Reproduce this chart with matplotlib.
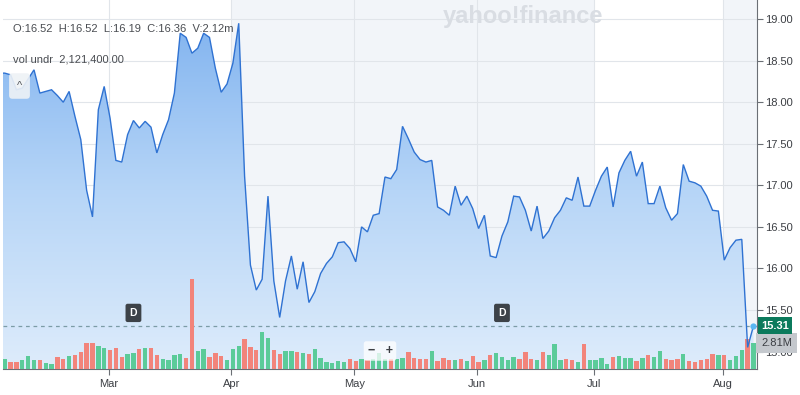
import numpy as np
import pandas as pd
import matplotlib
matplotlib.use('Agg')
import matplotlib.pyplot as plt
import matplotlib.transforms as mtransforms
from matplotlib.colors import LinearSegmentedColormap
from matplotlib.patches import Polygon

plt.rcParams['font.family'] = ['Liberation Sans', 'DejaVu Sans']

# trading days, Feb 4 - Aug 8 2025
holidays = ['2025-02-17', '2025-04-18', '2025-05-26', '2025-06-19', '2025-07-04']
dates = pd.bdate_range('2025-02-04', '2025-08-08', freq='C', holidays=holidays)

close = [18.35, 18.33, 18.15, 18.17, 18.28, 18.39, 18.11, 18.13, 18.15, 18.08,
         18.00, 18.13, 17.83, 17.55, 16.94, 16.62, 17.91, 18.19, 17.81, 17.30,
         17.28, 17.61, 17.78, 17.69, 17.77, 17.70, 17.39, 17.61, 17.79, 18.11,
         18.83, 18.78, 18.59, 18.65, 18.83, 18.78, 18.41, 18.12, 18.22, 18.47,
         18.95, 17.11, 16.04, 15.74, 15.87, 16.87, 15.85, 15.41, 15.85, 16.15,
         15.75, 16.08, 15.59, 15.72, 15.94, 16.06, 16.14, 16.31, 16.32, 16.24,
         16.08, 16.50, 16.44, 16.64, 16.66, 17.10, 17.08, 17.19, 17.71, 17.56,
         17.40, 17.31, 17.28, 17.30, 16.74, 16.70, 16.64, 16.99, 16.76, 16.87,
         16.72, 16.48, 16.64, 16.15, 16.13, 16.39, 16.56, 16.87, 16.86, 16.70,
         16.45, 16.75, 16.36, 16.45, 16.61, 16.70, 16.85, 16.82, 17.10, 16.75,
         16.75, 16.94, 17.11, 17.22, 16.74, 17.15, 17.30, 17.41, 17.11, 17.28,
         16.78, 16.78, 16.99, 16.73, 16.58, 16.66, 17.25, 17.05, 17.03, 16.99,
         16.87, 16.70, 16.69, 16.10, 16.25, 16.34, 16.35, 15.05, 15.31]

# volume in millions
volume = [1.12, 0.79, 0.79, 0.98, 1.41, 0.98, 0.98, 0.68, 0.57, 1.30,
          1.12, 1.41, 1.52, 1.81, 2.82, 2.82, 2.46, 2.28, 2.09, 2.28,
          1.30, 1.63, 1.77, 2.20, 2.28, 2.28, 1.52, 1.12, 0.98, 1.52,
          1.63, 1.22, 9.76, 1.92, 2.17, 1.30, 1.77, 1.41, 1.01, 2.17,
          2.53, 3.25, 2.38, 2.03, 4.04, 3.33, 2.09, 1.66, 1.98, 1.95,
          1.81, 1.77, 1.66, 2.20, 1.22, 0.76, 0.68, 0.90, 0.79, 1.05,
          0.90, 1.12, 0.98, 1.08, 1.70, 1.08, 1.08, 1.08, 1.22, 1.81,
          1.16, 1.08, 1.08, 1.98, 0.90, 1.16, 0.98, 0.98, 1.05, 0.87,
          1.41, 0.79, 0.98, 1.52, 1.77, 1.33, 0.98, 1.30, 1.05, 1.81,
          1.05, 0.94, 1.81, 1.55, 2.71, 0.94, 1.12, 0.94, 0.76, 2.68,
          1.01, 1.01, 1.19, 0.51, 1.30, 1.41, 1.16, 1.19, 0.87, 1.16,
          1.49, 1.30, 1.92, 1.12, 1.01, 1.12, 1.66, 0.87, 0.79, 1.01,
          1.12, 1.66, 1.49, 1.49, 0.94, 1.41, 2.09, 3.25, 2.81]

# g = up day, r = down day
vol_dir = ("grrgggrggr" "rgrrrrggrr" "rggrgrrggg" "grrggrrrgg" "grrrggrrgg"
           "rgrggggggr" "rgrgggrggr" "rrrgrrrgrg" "rrgrggggrr" "rgrgggrrgr"
           "ggggrgggrg" "rggrrrgrrr" "rrgrgggrg")

div_dates = ['2025-03-07', '2025-06-06']
price_ticks = [15.0, 15.5, 16.0, 16.5, 17.0, 17.5, 18.0, 18.5, 19.0]
header = "O:16.52  H:16.52  L:16.19  C:16.36  V:2.12m"
vol_note = "vol undr  2,121,400.00"

x = np.arange(len(close))
month_first = [i for i in range(1, len(dates)) if dates[i].month != dates[i - 1].month]
month_pos = [i - 0.25 for i in month_first]
month_lab = [dates[i].strftime('%b') for i in month_first]

xl = (-0.3, len(close) - 0.4)
yl = (14.79, 19.23)

fig = plt.figure(figsize=(8, 3.95), dpi=100)
rect = [3 / 800, 26 / 395, 754 / 800, 369 / 395]
ax = fig.add_axes(rect)

# background month bands
ax.axvspan(month_pos[1], month_pos[4], color='#f2f5f9', zorder=0, lw=0)
ax.axvspan(month_pos[5], xl[1], color='#f2f5f9', zorder=0, lw=0)

# gradient fill under price
cmap = LinearSegmentedColormap.from_list('fill', ['#deecfb', '#b6d5f7', '#7fb2ef'])
grad = ax.imshow(np.linspace(0, 1, 256).reshape(-1, 1), cmap=cmap, origin='lower',
                 aspect='auto', extent=[xl[0], xl[1], yl[0], 19.1], zorder=1)
px = np.r_[xl[0], xl[0], x, x[-1]]
py = np.r_[yl[0], close[0], close, yl[0]]
poly = Polygon(np.column_stack([px, py]), closed=True, fc='none', ec='none',
               transform=ax.transData)
ax.add_patch(poly)
grad.set_clip_path(poly)

ax.axhline(close[-1], color='#7c9ca6', lw=0.9, ls=(0, (3, 3)), zorder=1.5)

ax.set_xlim(xl)
ax.set_ylim(yl)
ax.set_yticks(price_ticks)
ax.set_yticklabels([f'{v:.2f}' for v in price_ticks])
ax.set_xticks(month_pos)
ax.set_xticklabels(month_lab)
ax.yaxis.tick_right()
ax.grid(True, color='#e1e5ea', lw=0.8)
ax.set_axisbelow(True)
for s in ['top', 'left']:
    ax.spines[s].set_visible(False)
for s in ['right', 'bottom']:
    ax.spines[s].set_color('#6b6f75')
    ax.spines[s].set_linewidth(0.8)
ax.tick_params(axis='both', colors='#6b6f75', length=4, width=0.8,
               labelsize=8, labelcolor='#3c3f44', pad=2)
ax.tick_params(axis='x', pad=3)

# volume layer
ax_v = fig.add_axes(rect, sharex=ax)
ax_v.patch.set_alpha(0)
ax_v.axis('off')
vcol = ['#5bcb99' if c == 'g' else '#f2847b' for c in vol_dir]
ax_v.bar(x, volume, width=0.74, color=vcol, lw=0)
ax_v.set_ylim(0, 39.9)
ax_v.set_xlim(xl)

# price line layer
ax_p = fig.add_axes(rect, sharex=ax)
ax_p.patch.set_alpha(0)
ax_p.axis('off')
ax_p.set_ylim(yl)
ax_p.set_xlim(xl)
ax_p.plot(np.r_[xl[0], x], np.r_[close[0], close], color='#2f72d2', lw=1.0,
          solid_joinstyle='miter')
ax_p.plot(x[-1], close[-1], 'o', ms=4.5, color='#5ab6f2', mec='none')

# dividend markers
trans_d = mtransforms.blended_transform_factory(ax_p.transData, ax_p.transAxes)
for d in div_dates:
    i = dates.get_loc(pd.Timestamp(d))
    ax_p.text(i, 0.152, 'D', transform=trans_d, ha='center', va='center',
              fontsize=7.5, fontweight='bold', color='white',
              bbox=dict(boxstyle='round,pad=0.4,rounding_size=0.2', fc='#3d4248', ec='none'))

# last price / volume labels
trans_r = mtransforms.blended_transform_factory(ax_p.transAxes, ax_p.transData)
ax_p.text(1 + 4 / 754, close[-1], f'{close[-1]:.2f}', transform=trans_r, ha='left',
          va='center', fontsize=8, fontweight='bold', color='white', clip_on=False,
          bbox=dict(boxstyle='square,pad=0.3', fc='#0b7a5c', ec='none'))
trans_rv = mtransforms.blended_transform_factory(ax_v.transAxes, ax_v.transData)
ax_v.text(1 + 4 / 754, volume[-1], f'{volume[-1]:.2f}M', transform=trans_rv, ha='left',
          va='center', fontsize=8, color='#3a3d42', clip_on=False,
          bbox=dict(boxstyle='square,pad=0.45', fc='#c4c8cd', ec='none'))

# overlay texts
fig.text(13 / 800, 1 - 29 / 395, header, fontsize=8, color='#4a4d52', va='center')
fig.text(13 / 800, 1 - 59 / 395, vol_note, fontsize=8, color='#4a4d52', va='center')
fig.text(19.5 / 800, 1 - 86 / 395, '^', fontsize=8, color='#55585d', ha='center', va='center',
         bbox=dict(boxstyle='round,pad=0.7,rounding_size=0.3', fc='#eef2f6', ec='none', alpha=0.9))
fig.text(523 / 800, 1 - 17 / 395, 'yahoo!finance', fontsize=17, fontweight='bold',
         color='#d9dde3', ha='center', va='center')
fig.text(380 / 800, 1 - 351 / 395, '\u2212   +', fontsize=9, fontweight='bold', color='#3c3f44',
         ha='center', va='center',
         bbox=dict(boxstyle='round,pad=0.3,rounding_size=0.2', fc='white', ec='none', alpha=0.75))

fig.savefig('out.png', dpi=100, facecolor='white')
